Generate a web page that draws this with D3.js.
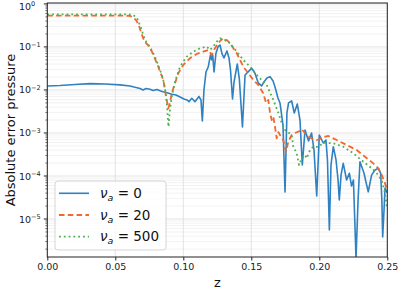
<!DOCTYPE html>
<html>
<head>
<meta charset="utf-8">
<script src="https://cdn.jsdelivr.net/npm/d3@7"></script>
<style>
  body { margin: 0; background: #fff; }
  svg { display: block; font-family: "DejaVu Sans", sans-serif; }
</style>
</head>
<body>
<script>
// values (z position, absolute error)
var zBlue = [0.000, 0.0093, 0.0204, 0.0314, 0.0424, 0.0535, 0.0608, 0.0638, 0.0660, 0.0682,
  0.0704, 0.0726, 0.0755, 0.0777, 0.0807, 0.0829, 0.0851, 0.0880, 0.0917, 0.0946,
  0.0976, 0.1005, 0.1027, 0.1042, 0.1062, 0.1086, 0.1115, 0.1130, 0.1140, 0.1152,
  0.1167, 0.1184, 0.1200, 0.1209, 0.1216, 0.1226, 0.1240, 0.1255, 0.1270, 0.1285,
  0.1299, 0.1321, 0.1336, 0.1347, 0.1362, 0.1373, 0.1397, 0.1412, 0.1435, 0.1454,
  0.1478, 0.1503, 0.1527, 0.1551, 0.1576, 0.1593, 0.1615, 0.1638, 0.1660, 0.1674,
  0.1696, 0.1711, 0.1733, 0.1748, 0.1762, 0.1774, 0.1797, 0.1816, 0.1838, 0.1858,
  0.1875, 0.1895, 0.1921, 0.1943, 0.1961, 0.1981, 0.2000, 0.2029, 0.2049, 0.2060,
  0.2074, 0.2086, 0.2103, 0.2123, 0.2138, 0.2147, 0.2160, 0.2176, 0.2201, 0.2221,
  0.2237, 0.2251, 0.2270, 0.2285, 0.2299, 0.2329, 0.2343, 0.2360, 0.2385, 0.2410,
  0.2434, 0.2451, 0.2460, 0.2466, 0.2476, 0.2483, 0.2500];
var errBlue = [0.0124, 0.0127, 0.0134, 0.0140, 0.0138, 0.0131, 0.0124, 0.0117, 0.0113, 0.0108,
  0.0100, 0.0108, 0.0104, 0.00973, 0.0103, 0.00964, 0.00913, 0.00865, 0.00794, 0.00765,
  0.00687, 0.00618, 0.00585, 0.00535, 0.00641, 0.00535, 0.00706, 0.00585, 0.00190, 0.0100,
  0.0262, 0.0348, 0.0652, 0.0499, 0.0652, 0.0262, 0.0714, 0.100, 0.111, 0.0688,
  0.0555, 0.0807, 0.0555, 0.0292, 0.00618, 0.0153, 0.0402, 0.0180, 0.00138, 0.0223,
  0.0266, 0.0320, 0.0245, 0.0146, 0.0124, 0.0153, 0.0190, 0.0204, 0.0162, 0.0119,
  0.00652, 0.00499, 0.00153, 4.25e-5, 0.00292, 0.00499, 0.00555, 0.00292, 0.00472, 0.00200,
  1.80e-4, 0.00117, 6.52e-4, 0.00100, 4.02e-4, 3.43e-5, 8.98e-4, 5.85e-4, 6.87e-4, 2.36e-4,
  5.55e-6, 1.80e-4, 4.80e-4, 2.36e-4, 8.07e-5, 2.77e-5, 1.06e-4, 1.97e-4, 8.07e-5, 1.16e-4,
  5.85e-5, 8.07e-5, 1.2e-6, 2.77e-5, 2.15e-4, 1.16e-4, 7.25e-5, 4.31e-5, 1.06e-4, 1.38e-4,
  1.51e-4, 1.17e-4, 2.77e-5, 3.81e-6, 1.62e-5, 5.26e-5, 4.03e-5];

var zOrange = [0.000, 0.0240, 0.0461, 0.0571, 0.0608, 0.0632, 0.0657, 0.0674, 0.0689, 0.0704,
  0.0718, 0.0740, 0.0755, 0.0770, 0.0792, 0.0814, 0.0829, 0.0853, 0.0865, 0.0878,
  0.0890, 0.0902, 0.0915, 0.0939, 0.0963, 0.1000, 0.1049, 0.1099, 0.1147, 0.1184,
  0.1209, 0.1233, 0.1257, 0.1282, 0.1299, 0.1319, 0.1343, 0.1393, 0.1441, 0.1478,
  0.1515, 0.1551, 0.1588, 0.1608, 0.1625, 0.1638, 0.1650, 0.1662, 0.1674, 0.1687,
  0.1700, 0.1711, 0.1735, 0.1755, 0.1772, 0.1797, 0.1821, 0.1846, 0.1871, 0.1895,
  0.1919, 0.1944, 0.1981, 0.2005, 0.2035, 0.2066, 0.2128, 0.2201, 0.2275, 0.2336,
  0.2397, 0.2434, 0.2459, 0.2483, 0.2498];
var errOrange = [0.535, 0.535, 0.535, 0.532, 0.526, 0.485, 0.402, 0.308, 0.223, 0.162,
  0.129, 0.111, 0.0948, 0.0765, 0.0526, 0.0362, 0.0266, 0.0171, 0.0100, 0.00585,
  0.00375, 0.00499, 0.00838, 0.0143, 0.0245, 0.0381, 0.0546, 0.0688, 0.0778, 0.0851,
  0.0652, 0.0933, 0.122, 0.151, 0.133, 0.1455, 0.122, 0.0714, 0.0348, 0.0245,
  0.0171, 0.0131, 0.00838, 0.00499, 0.00585, 0.00292, 0.00200, 0.00239, 0.00140, 7.53e-4,
  0.00105, 8.98e-4, 6.87e-4, 3.67e-4, 6.28e-4, 8.98e-4, 0.00100, 0.00107, 0.00122, 9.85e-4,
  8.20e-4, 7.53e-4, 6.87e-4, 7.25e-4, 8.07e-4, 8.51e-4, 6.87e-4, 5.26e-4, 4.02e-4, 2.81e-4,
  1.97e-4, 1.51e-4, 1.06e-4, 6.76e-5, 4.72e-5];

var zGreen = [0.000, 0.0240, 0.0461, 0.0593, 0.0630, 0.0660, 0.0689, 0.0718, 0.0740, 0.0755,
  0.0792, 0.0829, 0.0851, 0.0865, 0.0880, 0.0891, 0.0902, 0.0915, 0.0939, 0.0976,
  0.1025, 0.1074, 0.1123, 0.1172, 0.1196, 0.1221, 0.1246, 0.1270, 0.1307, 0.1343,
  0.1393, 0.1441, 0.1490, 0.1540, 0.1588, 0.1613, 0.1662, 0.1699, 0.1724, 0.1748,
  0.1770, 0.1797, 0.1809, 0.1834, 0.1851, 0.1871, 0.1895, 0.1907, 0.1932, 0.1956,
  0.1993, 0.2029, 0.2103, 0.2176, 0.2250, 0.2324, 0.2385, 0.2422, 0.2459, 0.2483,
  0.2496];
var errGreen = [0.570, 0.570, 0.570, 0.570, 0.555, 0.472, 0.277, 0.1455, 0.117, 0.100,
  0.0585, 0.0292, 0.0180, 0.0111, 0.00448, 0.00140, 0.00343, 0.00698, 0.0156, 0.0348,
  0.0595, 0.0778, 0.0933, 0.102, 0.0851, 0.102, 0.133, 0.159, 0.1455, 0.122,
  0.0778, 0.0499, 0.0348, 0.0223, 0.0156, 0.0131, 0.00585, 0.00292, 0.00171, 0.00117,
  0.00105, 8.98e-4, 4.80e-4, 3.37e-4, 1.80e-4, 2.58e-4, 3.08e-4, 2.58e-4, 4.02e-4, 4.80e-4,
  4.72e-4, 5.94e-4, 5.75e-4, 4.80e-4, 3.37e-4, 2.15e-4, 1.51e-4, 1.16e-4, 8.07e-5, 3.96e-5,
  1.93e-5];

var nuValues = ['0', '20', '500'];
var xTicks = [0, 0.05, 0.10, 0.15, 0.20, 0.25];
var yExps = [0, -1, -2, -3, -4, -5];

// layout
var W = 399, H = 291;
var margin = {top: 3, right: 12, bottom: 34, left: 47.3};
var w = 387.3 - margin.left, h = 257 - margin.top;

var svg = d3.select('body').append('svg')
    .attr('width', W)
    .attr('height', H);

var g = svg.append('g')
    .attr('transform', 'translate(' + margin.left + ',' + margin.top + ')');

var xScale = d3.scaleLinear().domain([0, 0.25]).range([0, w]);
var yScale = d3.scaleLog().domain([1.31e-6, 1.05]).range([h, 0]);

// minor values for the log grid
var minorVals = [];
for (var e = -6; e <= 0; e++) {
  for (var m = 2; m <= 9; m++) {
    var v = m * Math.pow(10, e);
    if (v >= 1.31e-6 && v <= 1.05) minorVals.push(v);
  }
}

// grid
g.selectAll('.hminor').data(minorVals).enter().append('line')
  .attr('x1', 0).attr('x2', w)
  .attr('y1', function (d) { return yScale(d); })
  .attr('y2', function (d) { return yScale(d); })
  .attr('stroke', '#ececec').attr('stroke-width', 0.7);

g.selectAll('.hmajor').data(yExps).enter().append('line')
  .attr('x1', 0).attr('x2', w)
  .attr('y1', function (d) { return yScale(Math.pow(10, d)); })
  .attr('y2', function (d) { return yScale(Math.pow(10, d)); })
  .attr('stroke', '#dddddd').attr('stroke-width', 0.8);

g.selectAll('.vmajor').data(xTicks).enter().append('line')
  .attr('y1', 0).attr('y2', h)
  .attr('x1', function (d) { return xScale(d); })
  .attr('x2', function (d) { return xScale(d); })
  .attr('stroke', '#dddddd').attr('stroke-width', 0.8);

// lines
svg.append('defs').append('clipPath').attr('id', 'clip')
  .append('rect').attr('width', w).attr('height', h);

var line = d3.line()
  .x(function (d) { return xScale(d[0]); })
  .y(function (d) { return yScale(d[1]); });

var series = [
  {z: zBlue, v: errBlue, color: '#2f81c1', dash: null, width: 1.6},
  {z: zOrange, v: errOrange, color: '#f0682b', dash: '5.5,3.3', width: 1.8},
  {z: zGreen, v: errGreen, color: '#4cb050', dash: '1.8,3', width: 1.8}
];

var plot = g.append('g').attr('clip-path', 'url(#clip)');
series.forEach(function (s) {
  var pts = s.z.map(function (z, i) { return [z, s.v[i]]; });
  plot.append('path')
    .datum(pts)
    .attr('d', line)
    .attr('fill', 'none')
    .attr('stroke', s.color)
    .attr('stroke-width', s.width)
    .attr('stroke-linejoin', 'round')
    .attr('stroke-dasharray', s.dash);
});

// frame
g.append('rect')
  .attr('width', w).attr('height', h)
  .attr('fill', 'none').attr('stroke', '#222').attr('stroke-width', 1);

// x axis
var xAxis = d3.axisBottom(xScale).tickValues(xTicks).tickFormat(d3.format('.2f')).tickSize(3.5);
var gx = g.append('g').attr('transform', 'translate(0,' + h + ')').call(xAxis);
gx.select('.domain').remove();
gx.selectAll('text').attr('font-size', '9.5px').attr('fill', '#222').attr('font-family', 'DejaVu Sans');
gx.selectAll('line').attr('stroke', '#222');

// y axis ticks
g.selectAll('.ytickmaj').data(yExps).enter().append('line')
  .attr('x1', -3.5).attr('x2', 0)
  .attr('y1', function (d) { return yScale(Math.pow(10, d)); })
  .attr('y2', function (d) { return yScale(Math.pow(10, d)); })
  .attr('stroke', '#222');
g.selectAll('.ytickmin').data(minorVals).enter().append('line')
  .attr('x1', -2).attr('x2', 0)
  .attr('y1', function (d) { return yScale(d); })
  .attr('y2', function (d) { return yScale(d); })
  .attr('stroke', '#222').attr('stroke-width', 0.6);

// tick labels start at the same x, the top one pushed down a little so it stays on the page
var ylab = svg.selectAll('.ylab').data(yExps).enter().append('text')
  .attr('x', 19)
  .attr('y', function (d) {
    var y = margin.top + yScale(Math.pow(10, d)) + 3.5;
    return Math.max(y, 9.5);
  })
  .attr('font-size', '9.5px').attr('fill', '#222');
ylab.append('tspan').text('10');
ylab.append('tspan')
  .attr('dy', -3.5).attr('font-size', '6.5px')
  .text(function (d) { return d === 0 ? '0' : '\u2212' + (-d); });

// axis labels
svg.append('text')
  .attr('x', margin.left + w / 2).attr('y', 287)
  .attr('text-anchor', 'middle').attr('font-size', '13px').attr('fill', '#111')
  .text('z');
svg.append('text')
  .attr('transform', 'translate(15,' + (margin.top + h / 2) + ') rotate(-90)')
  .attr('text-anchor', 'middle').attr('font-size', '13px').attr('fill', '#111')
  .text('Absolute error pressure');

// legend
var leg = svg.append('g');
leg.append('rect')
  .attr('x', 55).attr('y', 181).attr('width', 111).attr('height', 69)
  .attr('rx', 3)
  .attr('fill', '#fff').attr('fill-opacity', 0.8)
  .attr('stroke', '#cccccc').attr('stroke-width', 0.8);

var rows = leg.selectAll('.row').data(series).enter().append('g')
  .attr('transform', function (d, i) { return 'translate(0,' + (193.3 + i * 21.7) + ')'; });
rows.append('line')
  .attr('x1', 59).attr('x2', 89)
  .attr('stroke', function (d) { return d.color; })
  .attr('stroke-width', function (d) { return d.width; })
  .attr('stroke-dasharray', function (d) { return d.dash; });
var lt = rows.append('text')
  .attr('x', 100).attr('y', 4.5)
  .attr('font-size', '13.5px').attr('fill', '#111');
lt.append('tspan').attr('font-style', 'italic').text('\u03bd');
lt.append('tspan').attr('font-style', 'italic').attr('font-size', '9.5px').attr('dy', 3).text('a');
lt.append('tspan').attr('dy', -3).text(function (d, i) { return ' = ' + nuValues[i]; });
</script>
</body>
</html>
